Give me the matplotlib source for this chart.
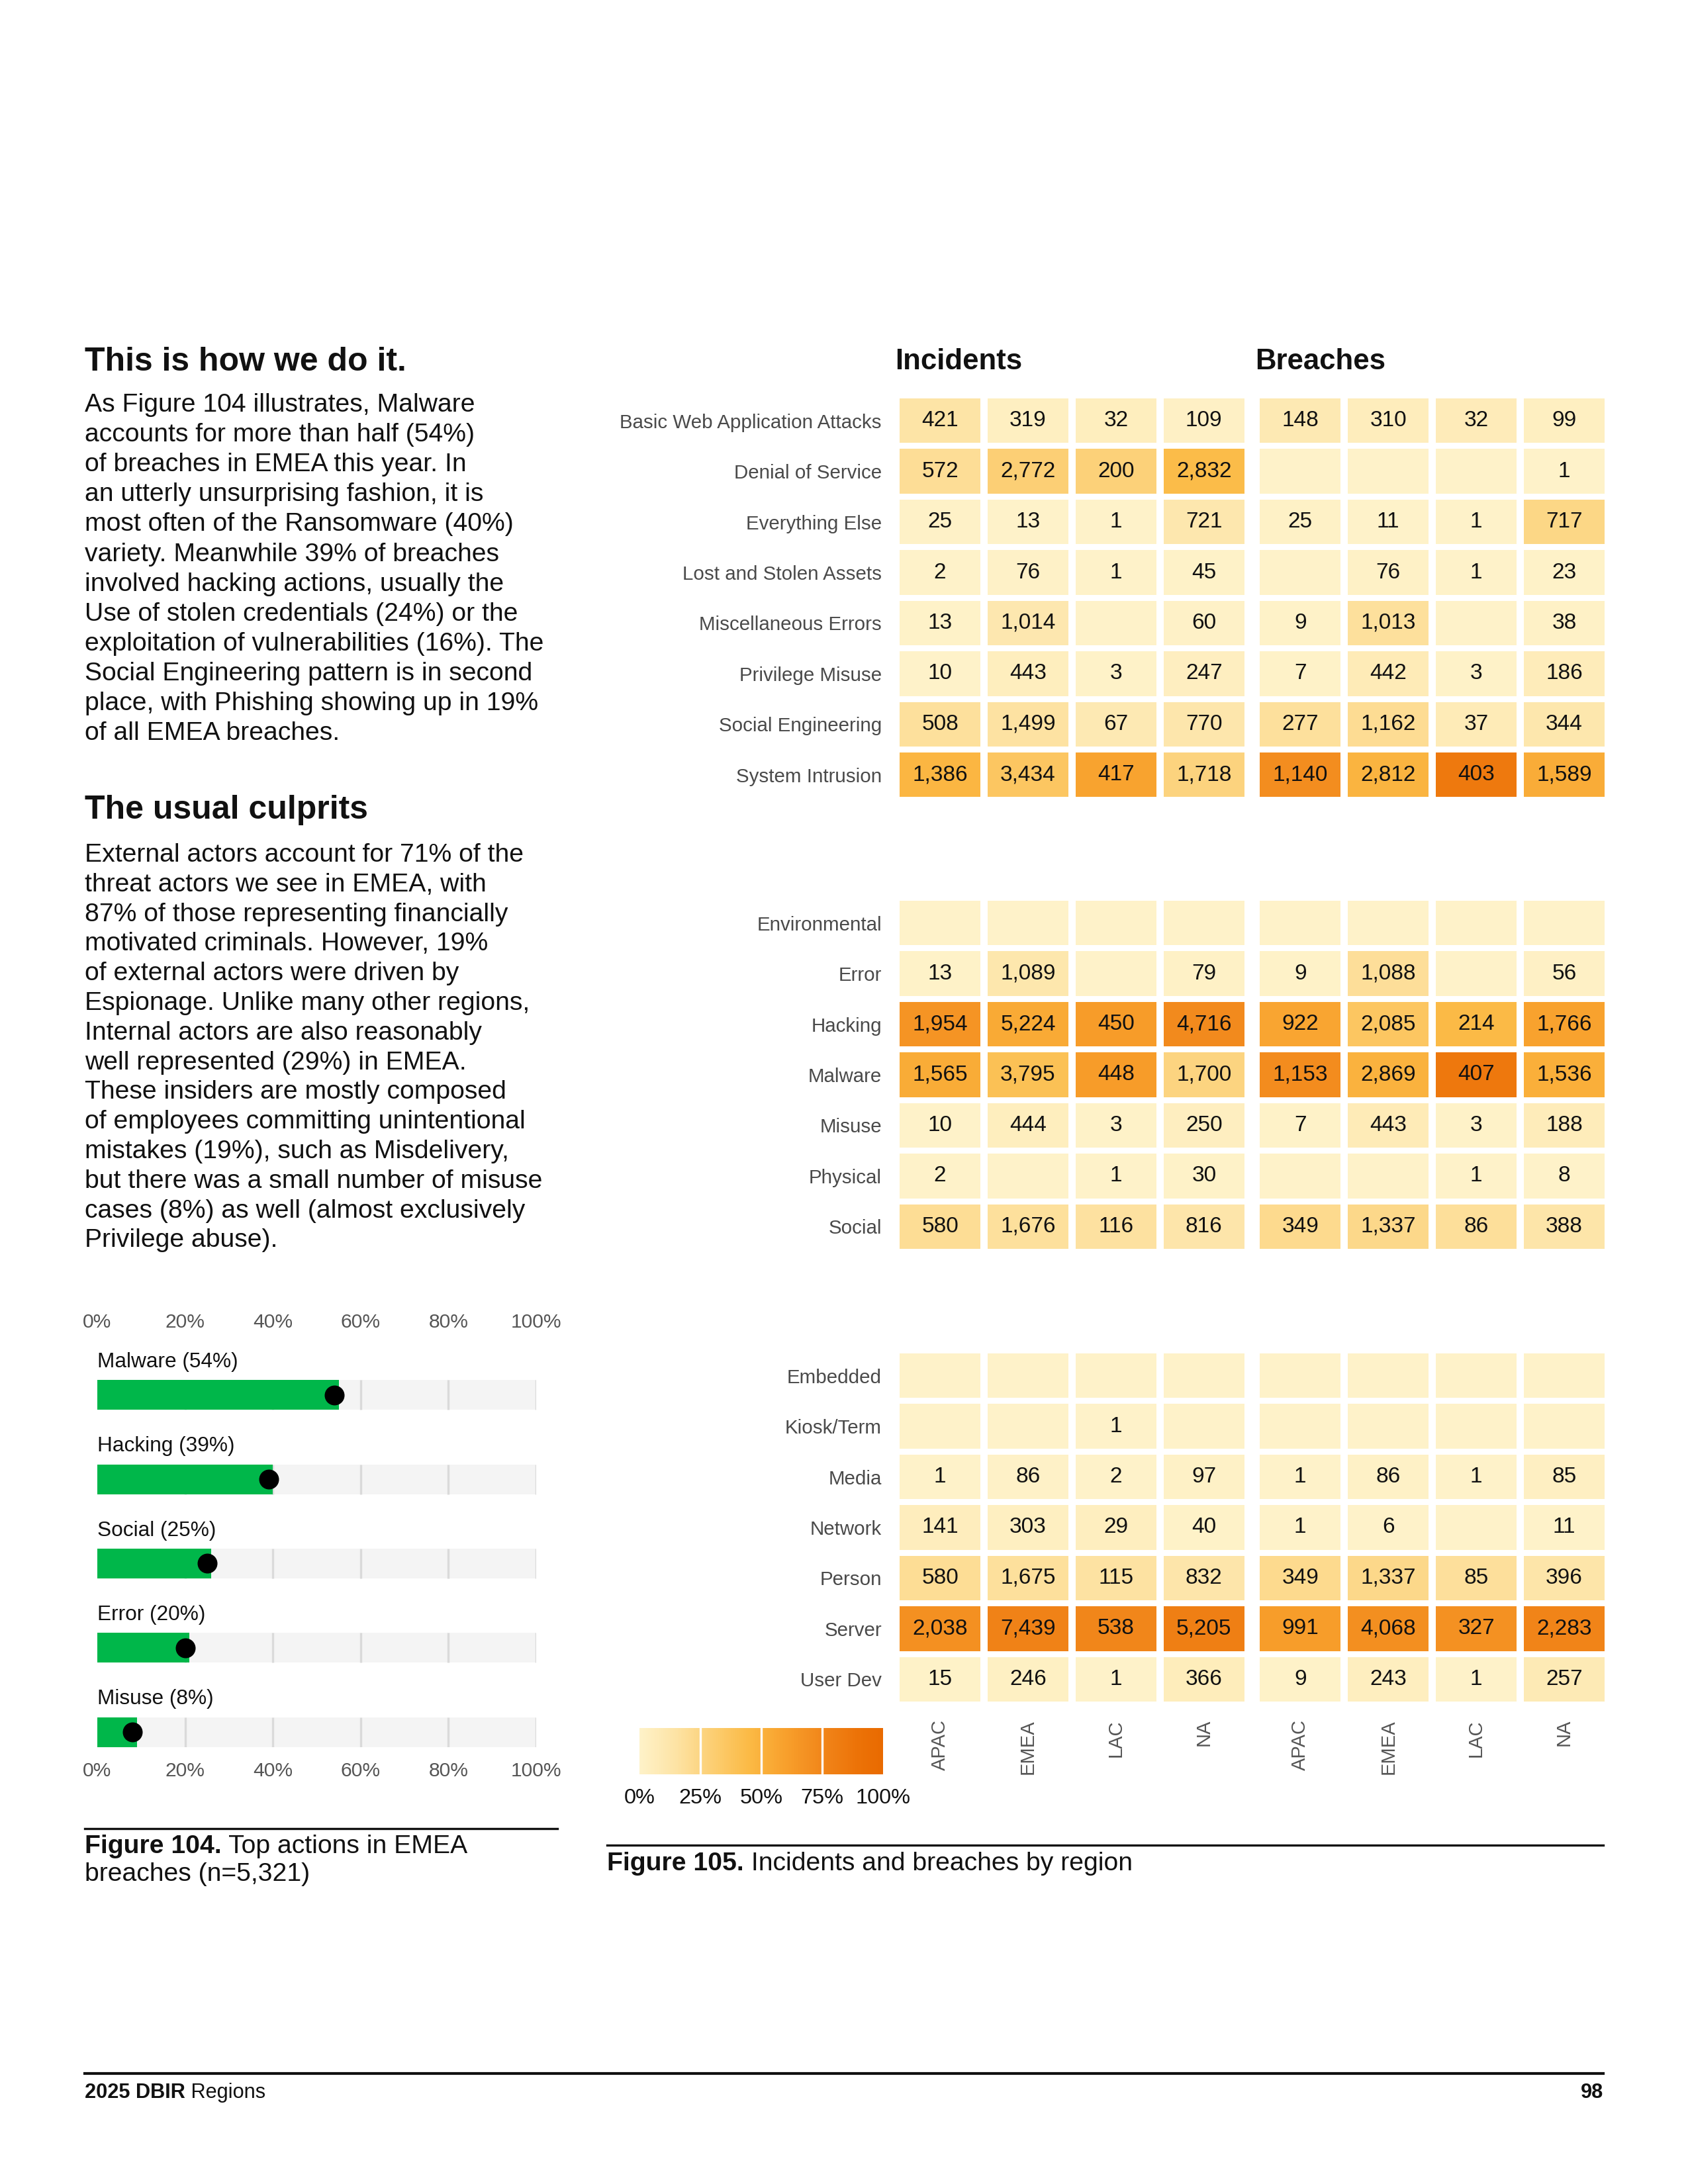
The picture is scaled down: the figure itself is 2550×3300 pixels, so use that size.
import numpy as np
import matplotlib
matplotlib.use("Agg")
import matplotlib.pyplot as plt
from matplotlib.colors import LinearSegmentedColormap, Normalize
from matplotlib.cm import ScalarMappable
from matplotlib.lines import Line2D

plt.rcParams['font.family'] = ['Liberation Sans', 'DejaVu Sans']
NARROW = ['Liberation Sans Narrow', 'Liberation Sans', 'DejaVu Sans']

# ---------------- data ----------------
regions = ['APAC', 'EMEA', 'LAC', 'NA']
nan = np.nan

patterns = ['Basic Web Application Attacks', 'Denial of Service', 'Everything Else',
            'Lost and Stolen Assets', 'Miscellaneous Errors', 'Privilege Misuse',
            'Social Engineering', 'System Intrusion']
pattern_inc = [[421, 319, 32, 109],
               [572, 2772, 200, 2832],
               [25, 13, 1, 721],
               [2, 76, 1, 45],
               [13, 1014, nan, 60],
               [10, 443, 3, 247],
               [508, 1499, 67, 770],
               [1386, 3434, 417, 1718]]
pattern_br = [[148, 310, 32, 99],
              [nan, nan, nan, 1],
              [25, 11, 1, 717],
              [nan, 76, 1, 23],
              [9, 1013, nan, 38],
              [7, 442, 3, 186],
              [277, 1162, 37, 344],
              [1140, 2812, 403, 1589]]

actions = ['Environmental', 'Error', 'Hacking', 'Malware', 'Misuse', 'Physical', 'Social']
action_inc = [[nan, nan, nan, nan],
              [13, 1089, nan, 79],
              [1954, 5224, 450, 4716],
              [1565, 3795, 448, 1700],
              [10, 444, 3, 250],
              [2, nan, 1, 30],
              [580, 1676, 116, 816]]
action_br = [[nan, nan, nan, nan],
             [9, 1088, nan, 56],
             [922, 2085, 214, 1766],
             [1153, 2869, 407, 1536],
             [7, 443, 3, 188],
             [nan, nan, 1, 8],
             [349, 1337, 86, 388]]

assets = ['Embedded', 'Kiosk/Term', 'Media', 'Network', 'Person', 'Server', 'User Dev']
asset_inc = [[nan, nan, nan, nan],
             [nan, nan, 1, nan],
             [1, 86, 2, 97],
             [141, 303, 29, 40],
             [580, 1675, 115, 832],
             [2038, 7439, 538, 5205],
             [15, 246, 1, 366]]
asset_br = [[nan, nan, nan, nan],
            [nan, nan, nan, nan],
            [1, 86, 1, 85],
            [1, 6, nan, 11],
            [349, 1337, 85, 396],
            [991, 4068, 327, 2283],
            [9, 243, 1, 257]]

top_actions = ['Malware', 'Hacking', 'Social', 'Error', 'Misuse']
top_shares = [54, 39, 25, 20, 8]
pct_ticks = [0, 20, 40, 60, 80, 100]
scale_ticks = [0, 0.25, 0.5, 0.75, 1.0]

para1 = ["As Figure 104 illustrates, Malware",
         "accounts for more than half (54%)",
         "of breaches in EMEA this year. In",
         "an utterly unsurprising fashion, it is",
         "most often of the Ransomware (40%)",
         "variety. Meanwhile 39% of breaches",
         "involved hacking actions, usually the",
         "Use of stolen credentials (24%) or the",
         "exploitation of vulnerabilities (16%). The",
         "Social Engineering pattern is in second",
         "place, with Phishing showing up in 19%",
         "of all EMEA breaches."]
para2 = ["External actors account for 71% of the",
         "threat actors we see in EMEA, with",
         "87% of those representing financially",
         "motivated criminals. However, 19%",
         "of external actors were driven by",
         "Espionage. Unlike many other regions,",
         "Internal actors are also reasonably",
         "well represented (29%) in EMEA.",
         "These insiders are mostly composed",
         "of employees committing unintentional",
         "mistakes (19%), such as Misdelivery,",
         "but there was a small number of misuse",
         "cases (8%) as well (almost exclusively",
         "Privilege abuse)."]

# ---------------- page ----------------
W, H = 2550, 3300
fig = plt.figure(figsize=(8.5, 11), dpi=300)
fig.patch.set_facecolor('white')
renderer = fig.canvas.get_renderer()


def fx(x):
    return x / W


def fy(y):
    return 1 - y / H


def rect(x0, y0, x1, y1):
    return [fx(x0), fy(y1), (x1 - x0) / W, (y1 - y0) / H]


def two_part(x, y, bold, regular, size, color='#111111'):
    t = fig.text(fx(x), fy(y), bold, fontsize=size, fontweight='bold',
                 color=color, va='baseline', ha='left')
    bb = t.get_window_extent(renderer)
    fig.text(bb.x1 / W, fy(y), regular, fontsize=size, color=color,
             va='baseline', ha='left')


def hline(x0, x1, y, lw):
    fig.add_artist(Line2D([fx(x0), fx(x1)], [fy(y), fy(y)], color='#111111',
                          lw=lw, transform=fig.transFigure))


# left column text
fig.text(fx(128), fy(560), "This is how we do it.", fontsize=12, fontweight='bold',
         color='#111111', va='baseline')
for i, line in enumerate(para1):
    fig.text(fx(128), fy(622 + i * 45.1), line, fontsize=9.4, color='#111111', va='baseline')

fig.text(fx(128), fy(1237), "The usual culprits", fontsize=12, fontweight='bold',
         color='#111111', va='baseline')
for i, line in enumerate(para2):
    fig.text(fx(128), fy(1302 + i * 44.8), line, fontsize=9.4, color='#111111', va='baseline')

# ---------------- Figure 104: bar chart ----------------
axb = fig.add_axes(rect(147, 2034, 810, 2640))
bh = 0.354
ypos = np.arange(len(top_actions))
axb.barh(ypos, 100, height=bh, color='#F4F4F4', zorder=1)
for x in pct_ticks[1:]:
    axb.vlines(np.full(len(ypos), x), ypos - bh / 2, ypos + bh / 2,
               color='#DADADA', lw=0.8, zorder=2)
axb.barh(ypos, np.array(top_shares) + 1.0, height=bh, color='#00B74A', zorder=3)
axb.plot(top_shares, ypos, 'o', color='black', ms=6.2, zorder=4)
for i, (name, v) in enumerate(zip(top_actions, top_shares)):
    axb.text(0, i - 0.39, f"{name} ({v}%)", fontsize=7.6, color='#111111',
             va='center', ha='left')
axb.set_xlim(0, 100)
axb.set_ylim(len(top_actions) - 1 + 0.18, -0.58)
axb.set_xticks(pct_ticks)
axb.set_xticklabels([f"{t}%" for t in pct_ticks])
axb.set_yticks([])
axb.tick_params(axis='x', length=0, labeltop=True, labelbottom=True,
                labelsize=7.2, labelcolor='#555555', pad=5.2)
for s in axb.spines.values():
    s.set_visible(False)

hline(128, 842, 2763, 0.8)
two_part(128, 2800, "Figure 104.", " Top actions in EMEA", 9.4)
fig.text(fx(128), fy(2842), "breaches (n=5,321)", fontsize=9.4, color='#111111', va='baseline')

# ---------------- Figure 105: heatmaps ----------------
cmap = LinearSegmentedColormap.from_list('dbir', [
    (0.00, '#FEF2C9'), (0.15, '#FDE3A4'), (0.30, '#FCCE72'), (0.45, '#FBBA45'),
    (0.60, '#F8A02C'), (0.75, '#F1861A'), (0.90, '#EC7207'), (1.00, '#E96A00')])
norm = Normalize(0, 1)

inc_tot = np.nansum(np.array(pattern_inc, float), axis=0)
br_tot = np.nansum(np.array(pattern_br, float), axis=0)

CW, CH, GAP = 0.92, 0.876, 0.095
panels = [(patterns, pattern_inc, pattern_br, 602),
          (actions, action_inc, action_br, 1361),
          (assets, asset_inc, asset_br, 2045)]

axes_h = []
for k, (names, inc, br, top) in enumerate(panels):
    n = len(names)
    bottom = top + (n - 1) * 76.5 + 67
    ax = fig.add_axes(rect(1359, top, 2424, bottom))
    axes_h.append(ax)
    for grp, (vals, tot) in enumerate([(inc, inc_tot), (br, br_tot)]):
        arr = np.array(vals, float)
        share = np.nan_to_num(arr / tot)
        for r in range(n):
            x0 = np.arange(4) + grp * (4 + GAP)
            ax.bar(x0, CH, bottom=r, width=CW, align='edge',
                   color=cmap(norm(share[r])), linewidth=0)
            for c in range(4):
                if not np.isnan(arr[r, c]):
                    ax.text(x0[c] + CW / 2, r + CH / 2, f"{int(arr[r, c]):,}",
                            ha='center', va='center', fontsize=8.0, color='#111111')
    ax.set_xlim(0, 7 + GAP + CW)
    ax.set_ylim(n - 1 + CH, 0)
    ax.set_yticks(np.arange(n) + CH / 2)
    ax.set_yticklabels(names, family=NARROW, fontsize=7.1, color='#4A4A4A')
    ax.tick_params(axis='y', length=0, pad=6.5)
    if k == 2:
        xc = np.concatenate([np.arange(4), np.arange(4) + 4 + GAP]) + CW / 2
        ax.set_xticks(xc)
        ax.set_xticklabels(regions * 2, rotation=90, fontsize=7.0, color='#555555',
                           va='top', ha='center')
        ax.tick_params(axis='x', length=0, pad=6.5)
    else:
        ax.set_xticks([])
    for s in ax.spines.values():
        s.set_visible(False)

axes_h[0].text(-0.05, -0.72, "Incidents", fontsize=10.5, fontweight='bold',
               color='#111111', va='center', ha='left')
axes_h[0].text(4 + GAP - 0.05, -0.72, "Breaches", fontsize=10.5, fontweight='bold',
               color='#111111', va='center', ha='left')

# colour scale
cax = fig.add_axes(rect(966, 2611, 1334, 2681))
cb = fig.colorbar(ScalarMappable(norm=norm, cmap=cmap), cax=cax, orientation='horizontal')
cb.outline.set_visible(False)
cb.set_ticks(scale_ticks)
cb.set_ticklabels([f"{int(t * 100)}%" for t in scale_ticks])
cax.tick_params(length=0, labelsize=7.8, labelcolor='#111111', pad=5)
for t in scale_ticks[1:-1]:
    cax.axvline(t, color='white', lw=0.8)

hline(917, 2422, 2788, 0.8)
two_part(917, 2826, "Figure 105.", " Incidents and breaches by region", 9.4)

# footer
hline(128, 2422, 3133, 1.0)
two_part(128, 3170, "2025 DBIR", " Regions", 7.4)
fig.text(fx(2422), fy(3170), "98", fontsize=7.4, fontweight='bold', color='#111111',
         ha='right', va='baseline')

fig.savefig('out.png', dpi=300, facecolor='white')
